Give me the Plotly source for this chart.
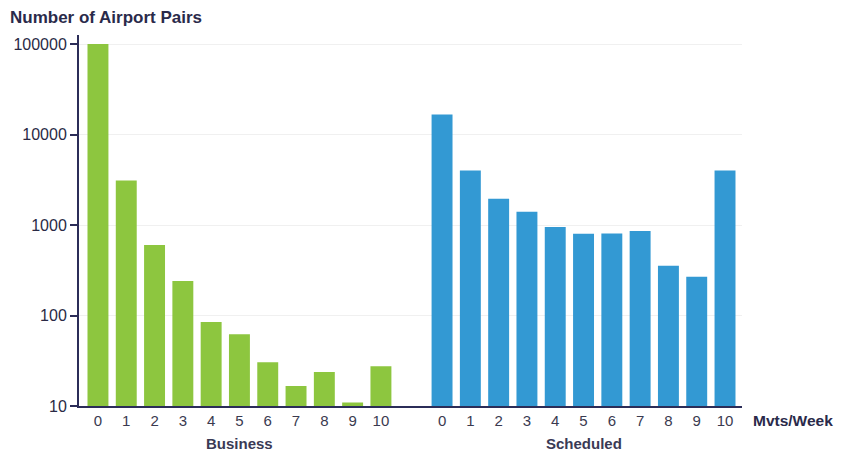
import plotly.graph_objects as go

mvts = [0, 1, 2, 3, 4, 5, 6, 7, 8, 9, 10]
business = [100000, 3100, 600, 240, 85, 62, 30.5, 16.6, 23.8, 10.9, 27.5]
scheduled = [16700, 4000, 1950, 1400, 950, 800, 805, 860, 355, 268, 4000]
yticks = [10, 100, 1000, 10000, 100000]
group_offset = 12.16

xb = [m for m in mvts]
xs = [m + group_offset for m in mvts]

fig = go.Figure()
fig.add_bar(x=xb, y=business, width=0.74, marker=dict(color="#8dc63f", line=dict(width=0)),
            name="Business")
fig.add_bar(x=xs, y=scheduled, width=0.74, marker=dict(color="#3399d3", line=dict(width=0)),
            name="Scheduled")

navy = "#2b2d58"
fig.update_layout(
    width=841, height=455,
    margin=dict(l=79, r=99, t=35, b=49),
    paper_bgcolor="white", plot_bgcolor="white",
    showlegend=False,
    font=dict(family="Liberation Sans, Arial, sans-serif", color="#33334d"),
    xaxis=dict(
        range=[-0.67, 22.76],
        tickvals=xb + xs,
        ticktext=[str(m) for m in mvts] * 2,
        tickfont=dict(size=15, color="#3a3a50"),
        showgrid=False, zeroline=False,
        showline=True, linecolor=navy, linewidth=2,
        ticks="", ticklen=0,
    ),
    yaxis=dict(
        type="log",
        range=[1, 5.1],
        tickvals=yticks,
        ticktext=[str(v) for v in yticks],
        tickfont=dict(size=16, color="#2a2a45"),
        showgrid=True, gridcolor="#f0f0f0", gridwidth=1,
        zeroline=False,
        showline=True, linecolor=navy, linewidth=2,
        ticks="outside", ticklen=7, tickwidth=2, tickcolor=navy,
    ),
    annotations=[
        dict(text="<b>Number of Airport Pairs</b>", xref="paper", yref="paper",
             x=-79/662, y=1, xanchor="left", yanchor="middle", xshift=8, yshift=18,
             showarrow=False, font=dict(size=17, color="#2a2a4a")),
        dict(text="<b>Business</b>", xref="x", yref="paper", x=5, y=0, yshift=-27,
             xanchor="center", yanchor="top", showarrow=False,
             font=dict(size=15, color="#3a3a55")),
        dict(text="<b>Scheduled</b>", xref="x", yref="paper", x=5 + group_offset, y=0, yshift=-27,
             xanchor="center", yanchor="top", showarrow=False,
             font=dict(size=15, color="#3a3a55")),
        dict(text="<b>Mvts/Week</b>", xref="paper", yref="paper", x=1, y=0, xshift=9,
             yshift=-4, xanchor="left", yanchor="top", showarrow=False,
             font=dict(size=15.5, color="#2a2a4a")),
    ],
)

fig.write_html("out.html")
